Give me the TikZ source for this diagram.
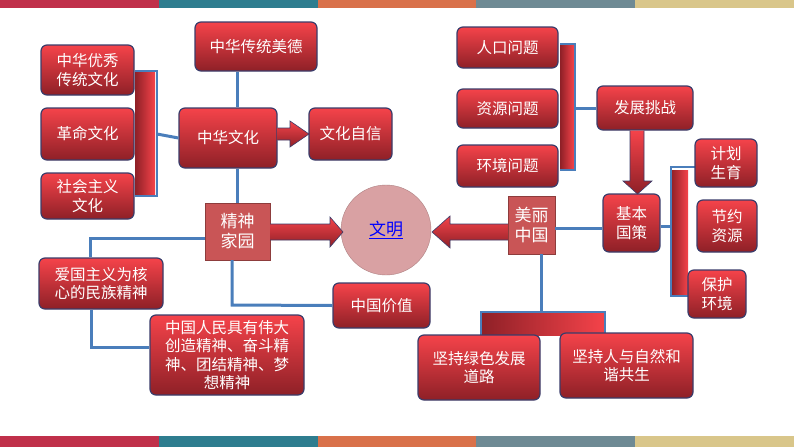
\documentclass[tikz,border=0pt]{standalone}
\usepackage{fontspec}
\newfontfamily\cjk{Noto Sans CJK SC}
\usetikzlibrary{positioning}
\definecolor{bR}{HTML}{C0304A}\definecolor{bT}{HTML}{2E7D8F}\definecolor{bO}{HTML}{D9714A}
\definecolor{bG}{HTML}{6E8A94}\definecolor{bY}{HTML}{D9C68A}
\definecolor{rtop}{HTML}{F5434A}\definecolor{rbot}{HTML}{8E2027}
\definecolor{edge}{HTML}{3B3C6A}\definecolor{ln}{HTML}{4A7EBB}
\definecolor{flat}{HTML}{C95556}\definecolor{pinkc}{HTML}{D9A1A3}
\tikzset{
 box/.style={draw=edge,line width=1.2pt,rounded corners=6pt,top color=rtop,bottom color=rbot,
   text=white,font=\cjk\fontsize{15.5}{18.5}\selectfont,align=center,inner sep=2pt},
 flatbox/.style={fill=flat,draw=flat!70!black,line width=0.4pt,text=white,font=\cjk\fontsize{17}{20}\selectfont,align=center,inner sep=2pt},
 lnk/.style={draw=ln,line width=3pt},
 fat/.style={top color=rtop,bottom color=rbot,draw=edge,line width=0.6pt},
 brk/.style={left color=rbot,right color=rtop,draw=none}
}
\begin{document}
\begin{tikzpicture}[x=1pt,y=-1pt]
\useasboundingbox (0,0) rectangle (794,447);
\fill[white] (0,0) rectangle (794,447);
\foreach \c [count=\i from 0] in {bR,bT,bO,bG,bY}{
 \fill[\c] (\i*158.8,0) rectangle ({(\i+1)*158.8},8);
 \fill[\c] (\i*158.8,436) rectangle ({(\i+1)*158.8},447);}
% brackets
\fill[brk] (135,72) rectangle (155,196);
\draw[ln,line width=2.5pt] (135,71) -- (157,71) -- (157,196) -- (135,196);
\fill[brk] (560,45) rectangle (574,170);
\draw[ln,line width=2.5pt] (560,44) -- (575,44) -- (575,170) -- (560,170);
\fill[brk] (671,170) rectangle (688,296);
\draw[ln,line width=2.5pt] (695,167) -- (671,167) -- (671,296) -- (688,296);
\fill[left color=rbot,right color=rtop] (481,313) rectangle (605,335);
\draw[ln,line width=2.5pt] (481,336) -- (481,312) -- (605,312) -- (605,336);
% nodes
\node[box,minimum width=93,minimum height=50] (yx) at (87.5,70) {中华优秀\\传统文化};
\node[box,minimum width=93,minimum height=52] (gm) at (87.5,134) {革命文化};
\node[box,minimum width=93,minimum height=46] (sh) at (87.5,196) {社会主义\\文化};
\node[box,minimum width=98,minimum height=60] (zh) at (228,138) {中华文化};
\node[box,minimum width=122,minimum height=49] (md) at (256,46.5) {中华传统美德};
\node[box,minimum width=83,minimum height=52] (zx) at (350.5,134) {文化自信};
\node[flatbox,minimum width=65,minimum height=57] (jj) at (237.5,231.5) {精神\\家园};
\node[circle,fill=pinkc,draw=pinkc!80!black,minimum size=90,text=blue,font=\cjk\fontsize{17}{20}\selectfont] (wm) at (386,230) {\underline{文明}};
\node[flatbox,minimum width=47,minimum height=58] (ml) at (531.5,225) {美丽\\中国};
\node[box,minimum width=57,minimum height=58] (gc) at (631.5,223) {基本\\国策};
\node[box,minimum width=96,minimum height=44] (fz) at (645,108) {发展挑战};
\node[box,minimum width=101,minimum height=41] (rk) at (507.5,47.5) {人口问题};
\node[box,minimum width=101,minimum height=39] (zy) at (507.5,108.5) {资源问题};
\node[box,minimum width=101,minimum height=42] (hj) at (507.5,166) {环境问题};
\node[box,minimum width=62,minimum height=48] (jh) at (726,163) {计划\\生育};
\node[box,minimum width=60,minimum height=52] (jy) at (727,226) {节约\\资源};
\node[box,minimum width=58,minimum height=48] (bh) at (717,294) {保护\\环境};
\node[box,minimum width=124,minimum height=51] (ag) at (101,283.5) {爱国主义为核\\心的民族精神};
\node[box,minimum width=154,minimum height=80] (rm) at (227,355) {中国人民具有伟大\\创造精神、奋斗精\\神、团结精神、梦\\想精神};
\node[box,minimum width=97,minimum height=45] (jz) at (381.5,305.5) {中国价值};
\node[box,minimum width=122,minimum height=65] (ls) at (479,367.5) {坚持绿色发展\\道路};
\node[box,minimum width=133,minimum height=65] (hx) at (626.5,365.5) {坚持人与自然和\\谐共生};
% links
\draw[lnk] (157,134) -- (zh.west);
\draw[lnk] (md.south -| 237,0) -- (zh.north -| 237,0);
\draw[lnk] (zh.south -| 237,0) -- (jj.north -| 237,0);
\draw[lnk] (jj.west |- 0,238) -- (90,238) -- (ag.north -| 90,0);
\draw[lnk] (ag.south -| 91,0) -- (91,347) -- (rm.west |- 0,347);
\draw[lnk] (jj.south -| 232,0) -- (232,305) -- (jz.west);
\draw[lnk] (575,108) -- (fz.west);
\draw[lnk] (ml.east |- 0,228) -- (gc.west |- 0,228);
\draw[lnk] (gc.east |- 0,226) -- (671,226);
\draw[lnk] (ml.south -| 541,0) -- (541,312);
% fat arrows
\draw[fat] (zh.east |- 0,128) -- (290,128) -- (290,121) -- (309,134) -- (290,147) -- (290,140) -- (zh.east |- 0,140);
\draw[fat] (jj.east |- 0,224) -- (330,224) -- (330,217) -- (343,232) -- (330,247) -- (330,240) -- (jj.east |- 0,240);
\draw[fat] (ml.west |- 0,224) -- (450,224) -- (450,216) -- (432,232) -- (450,248) -- (450,240) -- (ml.west |- 0,240);
\draw[fat] (fz.south -| 630,0) -- (630,181) -- (623,181) -- (637.5,194) -- (652,181) -- (644,181) -- (fz.south -| 644,0);
\end{tikzpicture}
\end{document}
